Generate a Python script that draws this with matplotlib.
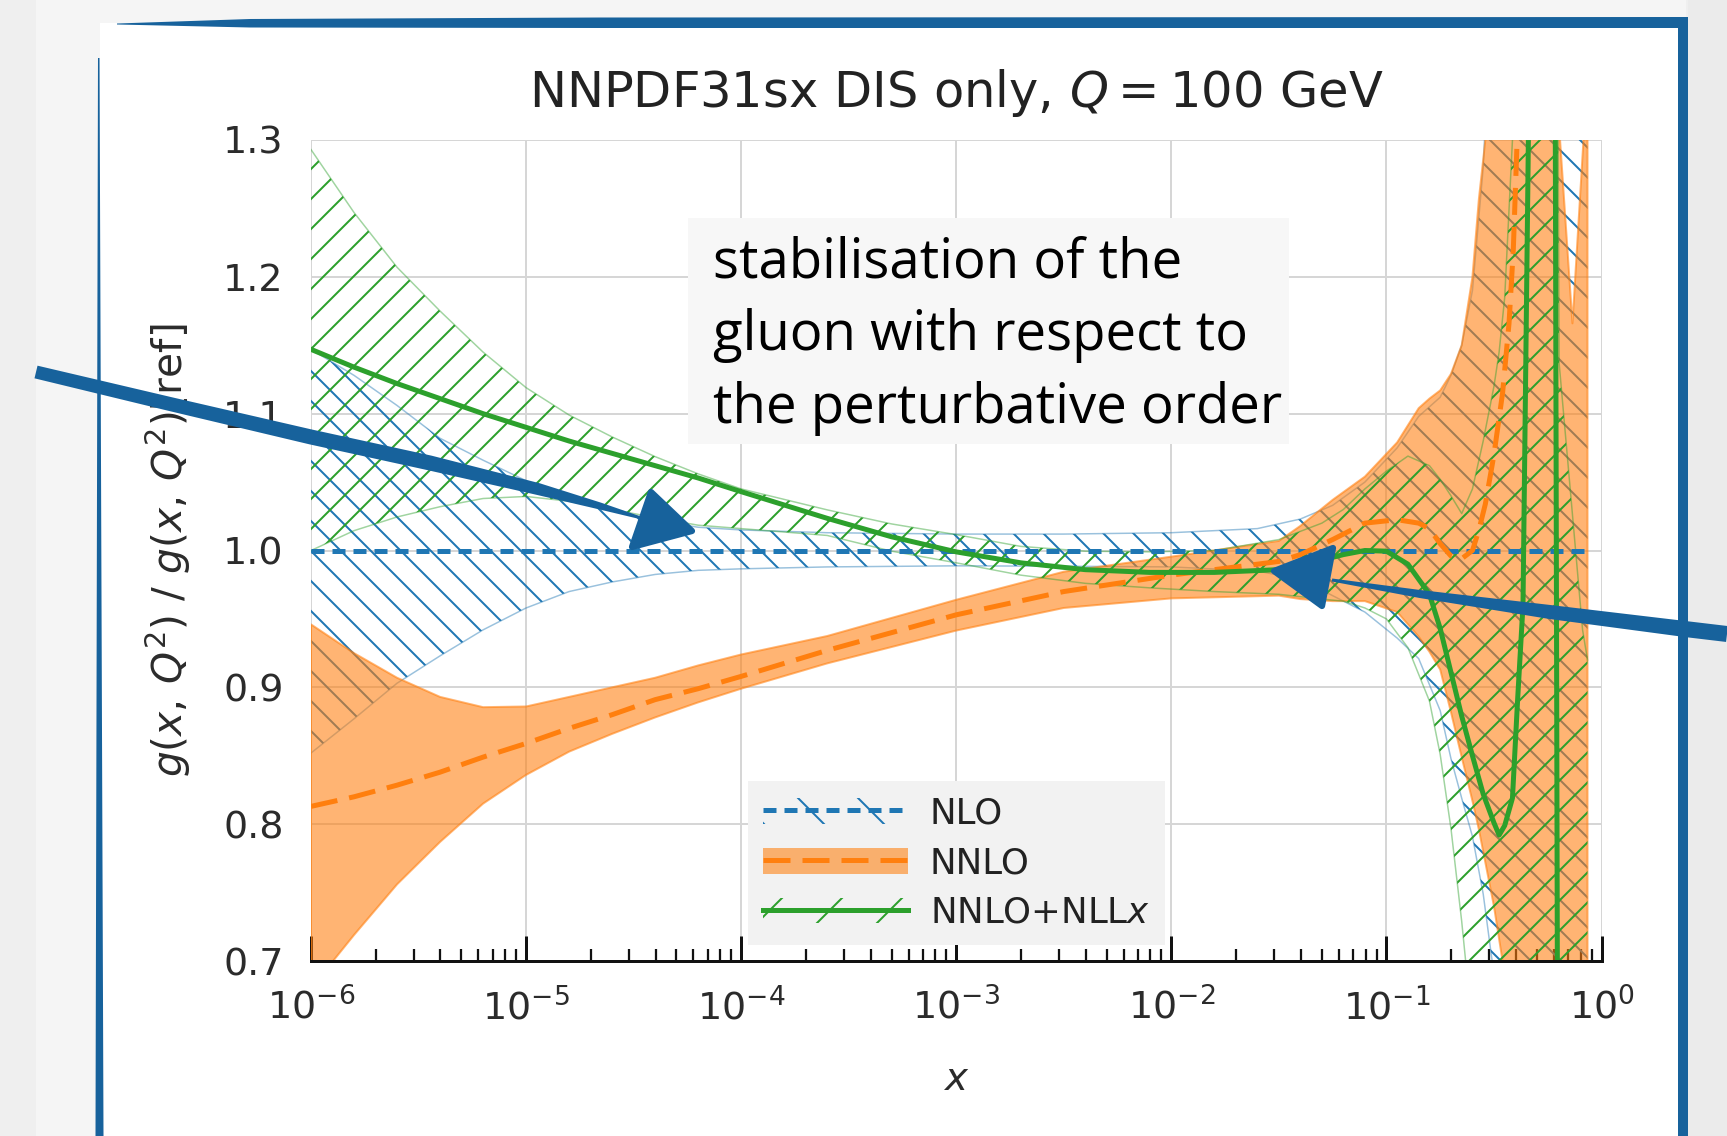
import numpy as np
import matplotlib
matplotlib.use("Agg")
import matplotlib.pyplot as plt
from matplotlib.patches import Polygon, Rectangle, Patch
from matplotlib.lines import Line2D
from matplotlib.ticker import LogLocator, NullFormatter

W, H, DPI = 1727, 1136, 180

plt.rcParams.update({
    "font.family": ["DejaVu Sans"],
    "mathtext.fontset": "dejavusans",
    "hatch.linewidth": 0.8,
})

# ---------------- data: ratio to the reference gluon vs log10(x) ----------------
NLO_LOGX = [-6.0, -5.8, -5.6, -5.4, -5.2, -5.0, -4.8, -4.6, -4.4, -4.2, -4.0, -3.6, -3.0,
            -2.5, -2.0, -1.6, -1.4, -1.25, -1.1, -0.95, -0.85, -0.75, -0.7, -0.65, -0.6,
            -0.55, -0.5, -0.4, -0.3, -0.2, -0.065]
NLO_HIGH = [1.147, 1.128, 1.106, 1.082, 1.066, 1.051, 1.038, 1.029, 1.022, 1.017, 1.015,
            1.013, 1.012, 1.012, 1.013, 1.016, 1.023, 1.033, 1.050, 1.075, 1.098, 1.112,
            1.128, 1.150, 1.190, 1.280, 1.450, 1.600, 1.600, 1.600, 1.600]
NLO_LOW = [0.852, 0.877, 0.903, 0.923, 0.942, 0.958, 0.970, 0.977, 0.9825, 0.9855, 0.9866,
           0.988, 0.9888, 0.9885, 0.988, 0.985, 0.979, 0.967, 0.955, 0.936, 0.921, 0.883,
           0.848, 0.819, 0.791, 0.749, 0.690, 0.55, 0.45, 0.40, 0.40]
NLO_CENTRAL_LOGX = [-6.0, -0.065]
NLO_CENTRAL = [1.0, 1.0]

NNLO_LOGX = [-6.0, -5.8, -5.6, -5.4, -5.2, -5.0, -4.8, -4.6, -4.4, -4.2, -4.0, -3.6, -3.0,
             -2.5, -2.0, -1.5, -1.4, -1.25, -1.1, -0.95, -0.85, -0.8, -0.75, -0.7, -0.65,
             -0.6, -0.57, -0.54, -0.5, -0.46, -0.43, -0.41, -0.39, -0.35, -0.21, -0.197,
             -0.135, -0.08, -0.065]
NNLO_HIGH = [0.946, 0.925, 0.907, 0.893, 0.8855, 0.886, 0.893, 0.900, 0.907, 0.916, 0.924,
             0.9375, 0.964, 0.9845, 0.9955, 1.007, 1.018, 1.037, 1.054, 1.079, 1.104, 1.111,
             1.117, 1.129, 1.150, 1.200, 1.257, 1.300, 1.500, 1.600, 1.600, 1.600, 1.600,
             1.600, 1.600, 1.310, 1.166, 1.310, 1.450]
NNLO_LOW = [0.68, 0.719, 0.756, 0.787, 0.815, 0.836, 0.853, 0.866, 0.878, 0.889, 0.899,
            0.9175, 0.9415, 0.958, 0.965, 0.967, 0.9645, 0.963, 0.963, 0.955, 0.937, 0.926,
            0.913, 0.882, 0.849, 0.817, 0.796, 0.772, 0.740, 0.700, 0.660, 0.62, 0.58, 0.52,
            0.45, 0.45, 0.45, 0.45, 0.45]
NNLO_CENTRAL = [0.813, 0.820, 0.8285, 0.838, 0.849, 0.859, 0.870, 0.880, 0.891, 0.899,
                0.908, 0.927, 0.953, 0.970, 0.982, 0.992, 0.997, 1.008, 1.020, 1.0225,
                1.020, 1.016, 1.005, 0.996, 0.994, 1.000, 1.015, 1.034, 1.070, 1.115,
                1.166, 1.220, 1.310, 1.500, 1.600, 1.600, 1.600, 1.600, 1.600]

NLLX_LOGX = [-6.0, -5.8, -5.6, -5.4, -5.2, -5.0, -4.8, -4.6, -4.4, -4.2, -4.0, -3.6, -3.3,
             -3.0, -2.7, -2.4, -2.1, -1.8, -1.5, -1.3, -1.2, -1.1, -1.0, -0.9, -0.8, -0.75,
             -0.7, -0.65, -0.6, -0.55, -0.5, -0.476, -0.45, -0.414, -0.39, -0.365, -0.34,
             -0.3, -0.25, -0.215, -0.205, -0.197, -0.15, -0.088, -0.065]
NLLX_HIGH = [1.293, 1.247, 1.207, 1.175, 1.145, 1.119, 1.099, 1.083, 1.0686, 1.056, 1.045,
             1.0297, 1.0194, 1.0116, 1.003, 0.9995, 0.999, 1.0, 1.008, 1.020, 1.030, 1.045,
             1.058, 1.069, 1.062, 1.052, 1.040, 1.027, 1.045, 1.080, 1.120, 1.145, 1.185,
             1.300, 1.450, 1.600, 1.600, 1.600, 1.600, 1.600, 1.420, 1.137, 1.053, 0.942,
             0.920]
NLLX_LOW = [1.0, 1.0145, 1.0245, 1.032, 1.038, 1.0395, 1.036, 1.030, 1.024, 1.0185, 1.016,
            1.011, 0.9995, 0.991, 0.982, 0.976, 0.9727, 0.970, 0.968, 0.9645, 0.963, 0.958,
            0.950, 0.929, 0.890, 0.851, 0.797, 0.729, 0.65, 0.50, 0.40, 0.40, 0.40, 0.40,
            0.40, 0.40, 0.40, 0.40, 0.40, 0.40, 0.40, 0.40, 0.40, 0.40, 0.40]
NLLX_CENTRAL = [1.147, 1.134, 1.122, 1.111, 1.100, 1.090, 1.080, 1.071, 1.062, 1.053,
                1.043, 1.0235, 1.010, 0.999, 0.991, 0.986, 0.984, 0.984, 0.986, 0.993,
                0.997, 1.000, 0.9995, 0.990, 0.968, 0.943, 0.911, 0.879, 0.850, 0.822,
                0.801, 0.792, 0.799, 0.819, 0.891, 0.960, 1.300, 1.600, 1.600, 1.320,
                0.680, 0.500, 0.400, 0.300, 0.300]

YTICKS = [0.7, 0.8, 0.9, 1.0, 1.1, 1.2, 1.3]
LABELS = ["NLO", "NNLO", "NNLO+NLL$x$"]
TITLE = "NNPDF31sx DIS only, $Q = 100$ GeV"
NOTE_LINES = ["stabilisation of the", "gluon with respect to", "the perturbative order"]

BLUE, ORANGE, GREEN = "#1f77b4", "#ff7f0e", "#2ca02c"
SLIDE_BLUE = "#17629c"
ORANGE_ALPHA = 0.58

fig = plt.figure(figsize=(W / DPI, H / DPI), dpi=DPI, facecolor="white")

# ---------------- slide background ----------------
bg = fig.add_axes([0, 0, 1, 1], zorder=-10)
bg.set_xlim(0, W)
bg.set_ylim(H, 0)
bg.axis("off")
bg.add_patch(Rectangle((0, 0), W, H, color="#efefef", lw=0))
bg.add_patch(Rectangle((36, 0), 1650, H, color="#f5f5f5", lw=0))
bg.add_patch(Rectangle((100, 23), 1580, H - 23, color="white", lw=0))
bg.add_patch(Rectangle((1688, 0), W - 1688, H, color="#ebebeb", lw=0))

# ---------------- main axes ----------------
ax = fig.add_axes([311 / W, 1 - 961 / H, 1290.5 / W, 821 / H])
ax.set_facecolor("white")
ax.set_xscale("log")

x_nlo = 10 ** np.asarray(NLO_LOGX)
x_nnlo = 10 ** np.asarray(NNLO_LOGX)
x_nllx = 10 ** np.asarray(NLLX_LOGX)

# bands
ax.fill_between(x_nlo, NLO_LOW, NLO_HIGH, facecolor="none", edgecolor=BLUE,
                hatch="\\\\", linewidth=0, zorder=2)
ax.plot(x_nlo, NLO_LOW, color=BLUE, lw=0.6, alpha=0.45, zorder=2)
ax.plot(x_nlo, NLO_HIGH, color=BLUE, lw=0.6, alpha=0.45, zorder=2)

ax.fill_between(x_nnlo, NNLO_LOW, NNLO_HIGH, facecolor=ORANGE, edgecolor=ORANGE,
                alpha=ORANGE_ALPHA, linewidth=0.8, zorder=3)

ax.fill_between(x_nllx, NLLX_LOW, NLLX_HIGH, facecolor="none", edgecolor=GREEN,
                hatch="//", linewidth=0, zorder=4)
ax.plot(x_nllx, NLLX_LOW, color=GREEN, lw=0.6, alpha=0.45, zorder=4)
ax.plot(x_nllx, NLLX_HIGH, color=GREEN, lw=0.6, alpha=0.45, zorder=4)

# central values
ax.plot(10 ** np.asarray(NLO_CENTRAL_LOGX), NLO_CENTRAL, color=BLUE, lw=2.0,
        ls=(0, (2.6, 1.6)), zorder=5)
ax.plot(x_nnlo, NNLO_CENTRAL, color=ORANGE, lw=2.0, ls=(0, (5.4, 2.4)), zorder=6)
ax.plot(x_nllx, NLLX_CENTRAL, color=GREEN, lw=2.0, zorder=7)

ax.set_xlim(1e-6, 1)
ax.set_ylim(0.7, 1.3)
ax.set_yticks(YTICKS)
ax.xaxis.set_major_locator(LogLocator(base=10, numticks=20))
ax.xaxis.set_minor_locator(LogLocator(base=10, subs=np.arange(2, 10), numticks=100))
ax.xaxis.set_minor_formatter(NullFormatter())

ax.set_axisbelow(True)
ax.grid(True, which="major", color="#d6d6d6", lw=0.8)
for side in ("top", "right", "left"):
    ax.spines[side].set_visible(False)
ax.spines["bottom"].set_linewidth(1.2)
ax.spines["bottom"].set_color("#111111")
ax.spines["bottom"].set_zorder(10)

ax.tick_params(axis="x", which="major", direction="in", length=10, width=1.2,
               color="#111111", labelsize=15.2, labelcolor="#2b2b2b", pad=10.6)
ax.tick_params(axis="x", which="minor", direction="in", length=4.8, width=0.9,
               color="#111111")
ax.tick_params(axis="y", length=0, pad=11, labelsize=15.2, labelcolor="#2b2b2b")

ax.set_title(TITLE, fontsize=19.8, pad=13.2, color="#222222")
ax.set_ylabel(r"$g(x,\,Q^2)$ / $g(x,\,Q^2)$[ref]", fontsize=16.3, color="#2b2b2b")
ax.yaxis.set_label_coords(-0.0914, 0.5)
ax.set_xlabel("$x$", fontsize=15.5, color="#2b2b2b")
ax.xaxis.set_label_coords(0.5, -0.157)
ax.xaxis.label.set_va("baseline")

# legend: band patch + central line for each fit
handles = [
    (Patch(facecolor="none", edgecolor=BLUE, hatch="\\", linewidth=0),
     Line2D([], [], color=BLUE, lw=2.0, ls=(0, (2.6, 1.6)))),
    (Patch(facecolor=ORANGE, edgecolor=ORANGE, alpha=ORANGE_ALPHA, linewidth=0),
     Line2D([], [], color=ORANGE, lw=2.0, ls=(0, (5.4, 2.4)))),
    (Patch(facecolor="none", edgecolor=GREEN, hatch="/", linewidth=0),
     Line2D([], [], color=GREEN, lw=2.0)),
]
leg = ax.legend(handles, LABELS, loc="lower center", bbox_to_anchor=(0.5, 0.0196),
                borderaxespad=0, fontsize=14.2, handlelength=4.1, handleheight=0.74,
                handletextpad=0.6, borderpad=0.42, labelspacing=0.45, fancybox=False,
                framealpha=1.0, facecolor="#f2f2f2", edgecolor="none")
for t in leg.get_texts():
    t.set_color("#222222")

# ---------------- slide overlay: note, frame and arrows ----------------
ov = fig.add_axes([0, 0, 1, 1], zorder=10)
ov.set_xlim(0, W)
ov.set_ylim(H, 0)
ov.axis("off")
ov.patch.set_alpha(0)

ov.add_patch(Rectangle((688, 218), 601, 226, color="#f7f7f7", lw=0, zorder=1))
for line, base in zip(NOTE_LINES, (277, 350, 423)):
    ov.text(713, base, line, fontsize=21.8, family="Open Sans", color="black",
            ha="left", va="baseline", zorder=2)


def ribbon(points, widths):
    p = np.asarray(points, float)
    w = np.asarray(widths, float) / 2
    d = np.gradient(p, axis=0)
    n = np.stack([-d[:, 1], d[:, 0]], axis=1)
    n /= np.linalg.norm(n, axis=1)[:, None]
    return np.vstack([p + n * w[:, None], (p - n * w[:, None])[::-1]])


# frame
ov.add_patch(Polygon([(117, 23.5), (250, 19), (600, 17.5), (1688, 17), (1688, 28),
                      (600, 28), (250, 27.5), (117, 24.5)], closed=True,
                     color=SLIDE_BLUE, lw=0, zorder=3))
ov.add_patch(Rectangle((1678, 17), 10, H - 17, color=SLIDE_BLUE, lw=0, zorder=3))
ov.add_patch(Polygon([(98, 58), (99.5, 58), (103.5, H), (95.5, H)], closed=True,
                     color=SLIDE_BLUE, lw=0, zorder=3))

# arrow towards the small-x region
ov.add_patch(Polygon(ribbon([(36, 372), (170, 404), (311, 437), (430, 463), (538, 489),
                             (600, 506), (648, 520)],
                            [13, 14, 15, 15, 12, 7, 2]),
                     closed=True, color=SLIDE_BLUE, lw=0, zorder=4))
ov.add_patch(Polygon([(651, 492), (632, 547), (692, 531)], closed=True,
                     facecolor=SLIDE_BLUE, edgecolor=SLIDE_BLUE, lw=2.5, joinstyle="round",
                     zorder=4))

# arrow towards the large-x region
ov.add_patch(Polygon(ribbon([(1727, 634), (1685, 629), (1550, 612), (1420, 594),
                             (1332, 580)],
                            [16, 16, 14, 8, 3]),
                     closed=True, color=SLIDE_BLUE, lw=0, zorder=4))
ov.add_patch(Polygon([(1274, 571), (1333, 548), (1322, 606)], closed=True,
                     facecolor=SLIDE_BLUE, edgecolor=SLIDE_BLUE, lw=2.5, joinstyle="round",
                     zorder=4))

fig.savefig("out.png", dpi=DPI, facecolor=fig.get_facecolor())
